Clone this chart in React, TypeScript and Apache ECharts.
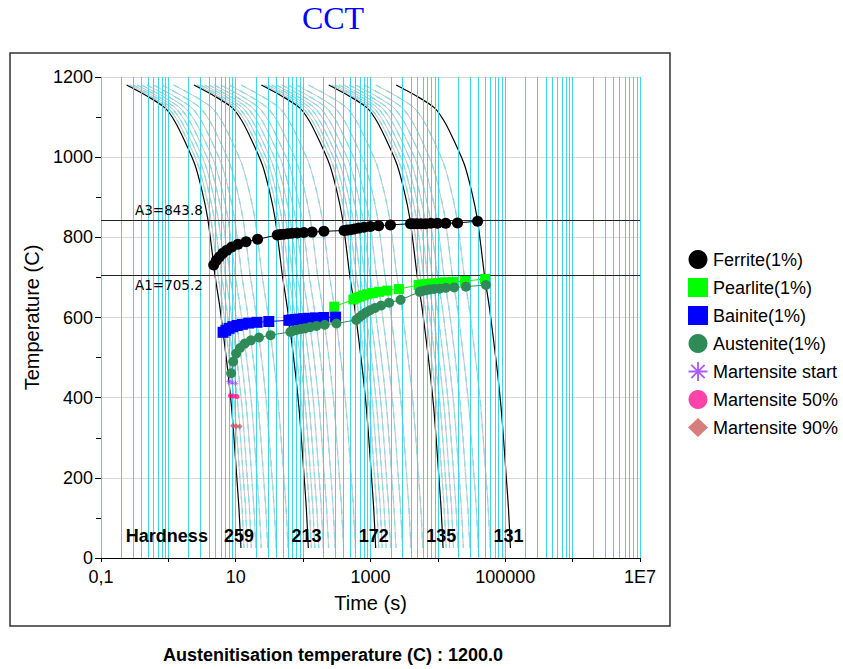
import React, { useEffect, useRef } from 'react';
import * as echarts from 'echarts';

// ---------- axes ----------
const TIME_MIN = 0.1;
const TIME_MAX = 1e7;
const TIME_TICK_LABELS = ['0,1', '10', '1000', '100000', '1E7'];
const TEMP_MIN = 0;
const TEMP_MAX = 1200;
const TEMP_INTERVAL = 200;

// ---------- fastest cooling curve: time (s), temperature (C) ----------
const BASE_CURVE_TIME = [0.24, 0.5, 0.89, 1.25, 1.76, 2.48, 3.18, 3.83, 4.39, 4.91, 5.83, 6.75, 7.74, 8.69, 9.5, 10.3, 11.15, 11.94];
const BASE_CURVE_TEMP = [1180, 1151, 1123, 1089, 1039, 981, 914, 848, 773, 706, 624, 540, 457, 374, 290, 207, 125, 25];

// time multipliers of the 37 cooling curves (slower cooling rates)
const CURVE_TIME_FACTORS = [
  1, 1.111, 1.25, 1.429, 1.667, 2, 2.5, 3.333, 5,
  10, 11.11, 12.5, 14.29, 16.67, 20, 25, 33.33, 50,
  100, 111.1, 125, 142.9, 166.7, 200, 250, 333.3, 500,
  1000, 1111, 1250, 1429, 1667, 2000, 2500, 3333, 5000,
  10000,
];
const BLACK_CURVES = [0, 9, 18, 27, 36];

// ---------- transformation temperatures on each cooling curve (C), null = none ----------
const FERRITE_T = [
  731, 742, 751, 760, 768, 776, 783, 789, 795,
  806, 807, 808, 809, 810, 811, 812, 813, 815,
  817, 818, 819, 821, 823, 825, 827, 829, 831,
  834, 834, 834, 834, 834, 835, 835, 835, 836,
  840,
];
const PEARLITE_T = [
  null, null, null, null, null, null, null, null, null,
  null, null, null, null, null, null, null, null, 627,
  645, 649, 652, 655, 658, 661, 664, 667, 671,
  681, 682, 683, 684, 685, 686, 688, 689, 691,
  696,
];
const BAINITE_T = [
  563, 568, 573, 577, 580, 583, 586, 588, 590,
  593, 594, 595, 596, 597, 598, 599, 600, 601,
  null, null, null, null, null, null, null, null, null,
  null, null, null, null, null, null, null, null, null,
  null,
];
const AUSTENITE_T = [
  null, 461, 490, 510, 524, 535, 543, 550, 556,
  564, 567, 569, 571, 573, 576, 579, 582, 585,
  594, 600, 606, 612, 618, 624, 630, 637, 644,
  664, 666, 668, 670, 671, 672, 674, 675, 677,
  681,
];
const MS_T = [440, 438, 436];
const M50_T = [405, 404, 403];
const M90_T = [330, 329, 328];

// ---------- critical temperatures ----------
const CRIT_TEMPS = [843.8, 705.2];
const CRIT_LABELS = ['A3=843.8', 'A1=705.2'];

// ---------- hardness ----------
const HARDNESS_VALUES = [259, 213, 172, 135, 131];
const HARDNESS_TIMES = [11.2, 112, 1120, 11200, 112000];
const HARDNESS_CAPTION_TIME = 0.95;
const HARDNESS_ROW_TEMP = 55;

const FONT = "'Liberation Sans', Arial, sans-serif";
const ASTERISK =
  'path://M-1,-10L1,-10L1,10L-1,10Z M-10,-1L10,-1L10,1L-10,1Z M-6.3,-7.7L7.7,6.3L6.3,7.7L-7.7,-6.3Z M7.7,-6.3L-6.3,7.7L-7.7,6.3L6.3,-7.7Z';

function timeOnCurve(temp: number, factor: number): number | null {
  for (let i = 0; i < BASE_CURVE_TEMP.length - 1; i++) {
    const a = BASE_CURVE_TEMP[i];
    const b = BASE_CURVE_TEMP[i + 1];
    if (temp <= a && temp >= b) {
      const f = (a - temp) / (a - b);
      const la = Math.log10(BASE_CURVE_TIME[i]);
      const lb = Math.log10(BASE_CURVE_TIME[i + 1]);
      return Math.pow(10, la + f * (lb - la)) * factor;
    }
  }
  return null;
}

function phasePoints(temps: (number | null)[]) {
  const out: number[][] = [];
  temps.forEach((T, i) => {
    if (T == null) return;
    const t = timeOnCurve(T, CURVE_TIME_FACTORS[i]);
    if (t != null) out.push([t, T]);
  });
  return out;
}

function curvePoints(factor: number) {
  return BASE_CURVE_TIME.map((t, i) => [t * factor, BASE_CURVE_TEMP[i]]);
}

function gridTimes() {
  const v: number[] = [];
  for (let e = -1; e < 7; e++) {
    for (let m = 1; m <= 9; m++) v.push(m * Math.pow(10, e));
  }
  v.push(1e7);
  return v;
}

function buildOption() {
  const series: any[] = [];

  // grey cooling curves
  CURVE_TIME_FACTORS.forEach((f, i) => {
    if (BLACK_CURVES.includes(i)) return;
    series.push({
      type: 'line',
      data: curvePoints(f),
      symbol: 'none',
      smooth: 0.25,
      silent: true,
      z: 1,
      lineStyle: { color: '#c2c2c2', width: 1 },
    });
    series.push({
      type: 'line',
      data: curvePoints(f),
      symbol: 'none',
      smooth: 0.25,
      silent: true,
      z: 1,
      lineStyle: { color: '#86dde8', width: 1.3, type: [6, 6] },
    });
  });

  // cyan log grid
  series.push({
    type: 'line',
    data: [],
    silent: true,
    z: 2,
    markLine: {
      silent: true,
      symbol: ['none', 'none'],
      animation: false,
      label: { show: false },
      lineStyle: { color: '#3fd6ea', width: 1, type: 'solid' },
      emphasis: { disabled: true },
      data: gridTimes().map((v) => ({ xAxis: v })),
    },
  });

  // black cooling curves
  BLACK_CURVES.forEach((i) => {
    series.push({
      type: 'line',
      data: curvePoints(CURVE_TIME_FACTORS[i]),
      symbol: 'none',
      smooth: 0.25,
      silent: true,
      z: 3,
      lineStyle: { color: '#000', width: 1.2 },
    });
  });

  // hardness row
  series.push({
    type: 'scatter',
    silent: true,
    z: 10,
    symbolSize: 1,
    itemStyle: { color: 'rgba(0,0,0,0)' },
    label: {
      show: true,
      position: 'inside',
      color: '#000',
      opacity: 1,
      textBorderWidth: 0,
      textBorderColor: 'transparent',
      fontFamily: FONT,
      fontWeight: 'bold',
      fontSize: 18,
      formatter: (p: any) => String(p.value[2]),
    },
    data: [
      [HARDNESS_CAPTION_TIME, HARDNESS_ROW_TEMP, 'Hardness'],
      ...HARDNESS_VALUES.map((h, i) => [HARDNESS_TIMES[i], HARDNESS_ROW_TEMP, h]),
    ],
  });

  // A3 / A1
  series.push({
    type: 'line',
    data: [],
    silent: true,
    z: 3,
    markLine: {
      silent: true,
      symbol: ['none', 'none'],
      animation: false,
      lineStyle: { color: '#222', width: 1.2, type: 'solid' },
      data: CRIT_TEMPS.map((T, i) => ({
        yAxis: T,
        label: {
          show: true,
          formatter: CRIT_LABELS[i],
          position: i === 0 ? 'insideStartTop' : 'insideStartBottom',
          distance: [34, 3],
          color: '#000',
          fontFamily: "'DejaVu Sans', sans-serif",
          fontSize: 13.5,
        },
      })),
    },
  });

  const phase = (name: string, temps: (number | null)[], symbol: string, size: number, color: string, line: boolean) => ({
    name,
    type: line ? 'line' : 'scatter',
    data: phasePoints(temps),
    symbol,
    symbolSize: size,
    z: 5,
    silent: true,
    itemStyle: { color, borderColor: color, borderWidth: 0 },
    lineStyle: { color, width: 1 },
  });

  series.push(phase('Ferrite(1%)', FERRITE_T, 'circle', 11, '#000000', true));
  series.push(phase('Pearlite(1%)', PEARLITE_T, 'rect', 10, '#00ff00', true));
  series.push(phase('Bainite(1%)', BAINITE_T, 'rect', 11, '#0000ff', true));
  series.push(phase('Austenite(1%)', AUSTENITE_T, 'circle', 10, '#2e8b57', true));
  series.push(phase('Martensite start', MS_T, ASTERISK, 6, '#9933ff', false));
  series.push(phase('Martensite 50%', M50_T, 'circle', 5, '#ff1493', false));
  series.push(phase('Martensite 90%', M90_T, 'diamond', 6, '#cd5c5c', false));

  return {
    animation: false,
    backgroundColor: '#ffffff',
    grid: { left: 101, top: 77, width: 539, height: 481, containLabel: false },
    legend: {
      orient: 'vertical',
      left: 683,
      top: 245,
      itemWidth: 20,
      itemHeight: 19,
      itemGap: 9,
      selectedMode: false,
      textStyle: { fontFamily: FONT, fontSize: 18, color: '#000', lineHeight: 19 },
      data: [
        { name: 'Ferrite(1%)', icon: 'circle' },
        { name: 'Pearlite(1%)', icon: 'rect' },
        { name: 'Bainite(1%)', icon: 'rect' },
        { name: 'Austenite(1%)', icon: 'circle' },
        { name: 'Martensite start', icon: ASTERISK },
        { name: 'Martensite 50%', icon: 'circle' },
        { name: 'Martensite 90%', icon: 'diamond' },
      ],
    },
    xAxis: {
      type: 'log',
      logBase: 10,
      min: TIME_MIN,
      max: TIME_MAX,
      name: 'Time (s)',
      nameLocation: 'middle',
      nameGap: 35,
      nameTextStyle: { fontFamily: FONT, fontSize: 20, color: '#000' },
      axisLine: { show: true, onZero: false, lineStyle: { color: '#000', width: 1 } },
      axisTick: { show: true, length: 4, lineStyle: { color: '#000' } },
      axisLabel: {
        fontFamily: FONT,
        fontSize: 18,
        color: '#000',
        margin: 10,
        showMinLabel: true,
        showMaxLabel: true,
        formatter: (v: number) => {
          const e = Math.round(Math.log10(v));
          if ((e + 1) % 2 !== 0) return '';
          return TIME_TICK_LABELS[(e + 1) / 2] ?? '';
        },
      },
      splitLine: { show: false },
    },
    yAxis: {
      type: 'value',
      min: TEMP_MIN,
      max: TEMP_MAX,
      interval: TEMP_INTERVAL,
      name: 'Temperature (C)',
      nameLocation: 'middle',
      nameGap: 52,
      nameTextStyle: { fontFamily: FONT, fontSize: 20, color: '#000' },
      axisLine: { show: false },
      axisTick: { show: true, length: 6, lineStyle: { color: '#000' } },
      minorTick: { show: true, splitNumber: 2, length: 5, lineStyle: { color: '#000' } },
      axisLabel: {
        fontFamily: FONT,
        fontSize: 18,
        color: '#000',
        margin: 8,
        formatter: (v: number) => String(v),
      },
      splitLine: { show: true, lineStyle: { color: '#d8d8d8', width: 1 } },
    },
    graphic: [
      {
        type: 'rect',
        z: -1,
        silent: true,
        shape: { x: 10, y: 53, width: 660, height: 573 },
        style: { fill: 'none', stroke: '#333', lineWidth: 1.5 },
      },
      {
        type: 'text',
        x: 333,
        y: 18,
        silent: true,
        style: {
          text: 'CCT',
          fill: '#0000ff',
          font: "32px 'Liberation Serif', 'Times New Roman', serif",
          textAlign: 'center',
          textVerticalAlign: 'middle',
        },
      },
      {
        type: 'text',
        x: 333,
        y: 655,
        silent: true,
        style: {
          text: 'Austenitisation temperature (C) : 1200.0',
          fill: '#000',
          font: "bold 18px 'Liberation Sans', Arial, sans-serif",
          textAlign: 'center',
          textVerticalAlign: 'middle',
        },
      },
    ],
    series,
  };
}

export default function App() {
  const ref = useRef<HTMLDivElement>(null);
  useEffect(() => {
    document.body.style.margin = '0';
    const chart = echarts.init(ref.current!, undefined, { renderer: 'svg' });
    chart.setOption(buildOption() as any);
    return () => chart.dispose();
  }, []);
  return <div ref={ref} style={{ width: 843, height: 669, position: 'absolute', left: 0, top: 0 }} />;
}
